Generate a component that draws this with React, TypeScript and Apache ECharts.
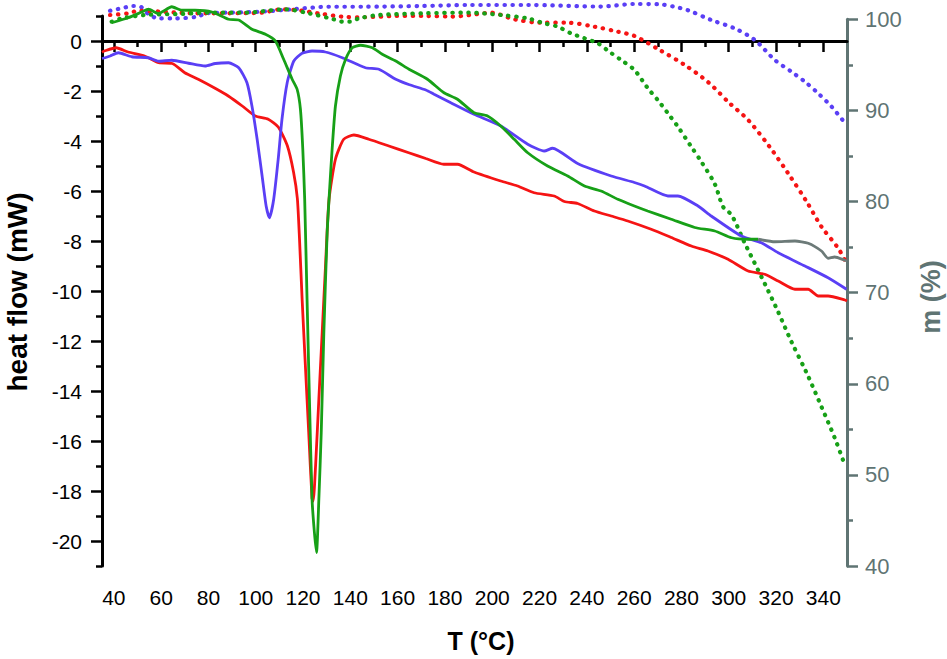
import React, { useEffect, useRef } from "react";
import * as echarts from "echarts";

// ---------- data ----------
const redT = [35, 36, 41, 46, 53, 59, 64.7, 70, 75.7, 83, 88.4, 94.3, 99.8, 105.3, 109.6, 113.4, 116, 117.6, 118.5, 119.6, 121, 122.4, 123.8, 124.3, 125.3, 126.7, 128.1, 129.5, 131, 133.7, 137.2, 141.5, 147.8, 156.3, 164.7, 171.9, 179.5, 185.3, 192.3, 203.6, 210.7, 217.7, 226.2, 230.5, 236.1, 243.2, 250.3, 257.3, 267.2, 275.7, 284.2, 291.2, 299.7, 308.2, 315.2, 320.9, 328, 333.6, 337.8, 342, 349.1, 350];
const redHF = [-0.45, -0.4, -0.27, -0.44, -0.6, -0.87, -0.9, -1.27, -1.53, -1.9, -2.2, -2.6, -3.0, -3.13, -3.45, -4.2, -5.25, -6.3, -7.9, -10.3, -13, -15.65, -18.3, -18.4, -17, -14.3, -11.66, -9.0, -6.33, -4.73, -3.93, -3.76, -3.93, -4.2, -4.47, -4.7, -4.93, -4.93, -5.24, -5.6, -5.8, -6.07, -6.2, -6.42, -6.5, -6.8, -7.0, -7.2, -7.53, -7.86, -8.2, -8.4, -8.73, -9.2, -9.33, -9.6, -9.93, -9.93, -10.2, -10.2, -10.36, -10.4];

const blueT = [35, 36.3, 38.4, 41.9, 47.6, 54.6, 58.9, 64.5, 71.6, 78.6, 82.9, 88.5, 92.8, 96.3, 98.4, 100.6, 102.7, 104.4, 105.8, 107.6, 109.5, 111.1, 113.3, 116.1, 119.6, 123.8, 129.5, 136.6, 146.4, 152.1, 159.2, 165, 171.9, 175.4, 182.5, 192.3, 203.6, 215, 222, 225.5, 236.1, 250.3, 260.1, 264.4, 274.3, 278.5, 287, 292.6, 305.3, 313.8, 320.9, 332.2, 342, 349.8];
const blueHF = [-0.7, -0.67, -0.6, -0.47, -0.63, -0.67, -0.81, -0.77, -0.89, -1.0, -0.9, -0.87, -1.07, -1.67, -2.6, -3.93, -5.4, -6.6, -7.07, -6.33, -4.73, -3.13, -1.67, -0.8, -0.49, -0.4, -0.44, -0.67, -1.07, -1.13, -1.53, -1.75, -1.96, -2.13, -2.47, -2.93, -3.4, -4.13, -4.4, -4.29, -4.9, -5.4, -5.66, -5.8, -6.2, -6.2, -6.6, -7.0, -7.8, -8.07, -8.47, -9.0, -9.47, -9.93];

const greenT = [39.1, 46.1, 51.8, 54.6, 58.9, 64.5, 68.8, 74.4, 81.5, 88.5, 92.8, 98.4, 104.1, 108.3, 111.8, 115.4, 117.5, 118.9, 119.9, 120.7, 121.7, 122.7, 123.8, 124.8, 125.7, 126.7, 127.7, 128.8, 130.2, 131.2, 132.3, 133.7, 135.8, 138, 140.8, 144.3, 149.3, 153.5, 159.2, 164.8, 172.6, 179.6, 185.3, 192.3, 198, 203.6, 209.3, 215, 223.4, 231.9, 239, 246, 253.1, 260.1, 265.7, 275.7, 285.6, 294.1, 301.2, 308.2, 312.4];
const greenHF = [0.73, 0.93, 1.16, 1.27, 1.1, 1.37, 1.23, 1.23, 1.16, 0.87, 0.84, 0.47, 0.27, 0, -0.73, -1.53, -1.93, -2.73, -4.33, -6.33, -10.33, -14.3, -18.3, -19.65, -20.46, -18.3, -15.65, -11.66, -7.67, -6.0, -4.33, -2.6, -1.4, -0.73, -0.27, -0.17, -0.27, -0.53, -0.8, -1.13, -1.53, -2.07, -2.33, -2.87, -3.0, -3.4, -3.93, -4.47, -5.0, -5.4, -5.8, -6.0, -6.33, -6.6, -6.8, -7.13, -7.46, -7.6, -7.87, -7.93, -7.93];

const grayT = [312.4, 319.5, 328, 333.6, 339.2, 342, 344.8, 349.1, 350];
const grayHF = [-7.93, -8.03, -8.0, -8.09, -8.4, -8.69, -8.64, -8.77, -8.8];

const blueMT = [38.4, 44.7, 47.6, 51.1, 54.6, 58.9, 65.9, 75.8, 78.6, 88.5, 102.6, 116.8, 130.9, 145, 170.5, 190, 215, 246, 260, 270.7, 277, 282.7, 292.6, 302.5, 311, 319.5, 326.5, 332.2, 337.8, 343.5, 349.8];
const blueM = [100.94, 101.3, 101.46, 101.4, 100.58, 100.1, 100.1, 100.3, 100.66, 100.73, 100.84, 101.13, 101.38, 101.38, 101.46, 101.57, 101.57, 101.4, 101.68, 101.65, 101.38, 101.0, 99.92, 99.0, 97.73, 95.53, 94.25, 93.15, 91.88, 90.41, 88.4];

const redMT = [38.4, 46.1, 50.4, 60.3, 74.4, 88.5, 102.6, 111.1, 119.6, 128.1, 136.6, 145, 159.2, 171.9, 182.5, 196.6, 199.4, 209.3, 220.6, 231.9, 243.2, 253.1, 260.1, 270.8, 281.4, 291.2, 300.4, 308.2, 317.3, 325.1, 332.9, 339.2, 346.3, 349.8];
const redM = [100.47, 100.66, 100.94, 100.84, 100.66, 100.66, 100.73, 101.1, 100.94, 100.58, 100.29, 100.22, 100.36, 100.36, 100.3, 100.66, 100.73, 100.0, 99.63, 99.63, 99.19, 98.64, 98.17, 96.63, 94.98, 93.12, 90.78, 88.95, 86.0, 83.1, 80.0, 77.24, 74.87, 73.2];

const greenMT = [39.1, 43.3, 53.2, 67.3, 81.5, 95.6, 112.5, 122.4, 133, 136.6, 140.1, 143.6, 152.1, 171.9, 190, 203.6, 215, 222, 227.7, 233.3, 239, 244.6, 249.5, 254.5, 260.1, 265.8, 270, 274.3, 278.5, 284.2, 288.4, 294.1, 297.6, 301.2, 306.8, 313.8, 320.2, 326.5, 333, 339.2, 344.9, 348.8];
const greenM = [99.74, 100.1, 100.47, 100.58, 100.73, 100.73, 101.1, 100.66, 100.0, 99.74, 99.74, 100.1, 100.47, 100.66, 100.73, 100.47, 100.1, 99.56, 99.19, 98.46, 97.92, 97.37, 96.44, 95.53, 94.44, 92.43, 91.14, 89.68, 88.21, 86.0, 84.37, 81.92, 79.43, 78.52, 75.42, 71.75, 68.28, 64.62, 61.15, 57.48, 54.0, 51.27];

const xMajorTicks = [40, 60, 80, 100, 120, 140, 160, 180, 200, 220, 240, 260, 280, 300, 320, 340];
const xMinorTicks = [50, 70, 90, 110, 130, 150, 170, 190, 210, 230, 250, 270, 290, 310, 330];
const yMajorTicks = [-20, -18, -16, -14, -12, -10, -8, -6, -4, -2, 0];
const yMinorTicks = [-21, -19, -17, -15, -13, -11, -9, -7, -5, -3, -1, 1];

const xTitle = "T (°C)";
const yTitle = "heat flow (mW)";
const y2Title = "m (%)";

const zip = (a: number[], b: number[]) => a.map((v, i) => [v, b[i]]);

const FONT = "'Liberation Sans', Arial, sans-serif";
const GRAY = "#5f7473";

export default function App() {
  const ref = useRef<HTMLDivElement>(null);
  useEffect(() => {
    if (!ref.current) return;
    const chart = echarts.init(ref.current, null, { renderer: "svg" });
    const gridA = { left: 102, right: 100, top: 16, bottom: 93, outerBoundsMode: "none" };
    const gridB = { left: 102, right: 100, top: 19.3, bottom: 93, outerBoundsMode: "none" };
    const solid = (name: string, t: number[], v: number[], color: string) => ({
      name,
      type: "line",
      xAxisIndex: 0,
      yAxisIndex: 0,
      data: zip(t, v),
      symbol: "none",
      smooth: 0.2,
      clip: false,
      lineStyle: { color, width: 2.8 },
      z: 3,
    });
    const dotted = (name: string, t: number[], v: number[], color: string) => ({
      name,
      type: "line",
      xAxisIndex: 2,
      yAxisIndex: 2,
      data: zip(t, v),
      symbol: "none",
      smooth: 0.3,
      clip: false,
      lineStyle: { color, width: 4.2, type: [0.4, 7.6], cap: "round" },
      z: 2,
    });
    chart.setOption({
      animation: false,
      backgroundColor: "#ffffff",
      grid: [gridA, gridA, gridB],
      xAxis: [
        {
          gridIndex: 0,
          type: "value",
          min: 35,
          max: 350,
          position: "bottom",
          axisLine: { show: true, lineStyle: { color: "#000", width: 3 } },
          axisTick: { show: true, customValues: xMajorTicks, length: 11, lineStyle: { color: "#000", width: 2.5 } },
          axisLabel: { show: true, customValues: xMajorTicks, margin: 21, color: "#000", fontSize: 21, fontFamily: FONT },
          splitLine: { show: false },
        },
        {
          gridIndex: 1,
          type: "value",
          min: 35,
          max: 350,
          position: "bottom",
          axisLine: { show: false },
          axisTick: { show: true, customValues: xMinorTicks, length: 6, lineStyle: { color: "#000", width: 2.5 } },
          axisLabel: { show: false },
          splitLine: { show: false },
        },
        {
          gridIndex: 2,
          type: "value",
          min: 35,
          max: 350,
          show: false,
          splitLine: { show: false },
        },
      ],
      yAxis: [
        {
          gridIndex: 0,
          type: "value",
          min: -21,
          max: 1,
          position: "left",
          axisLine: { show: true, lineStyle: { color: "#000", width: 3 } },
          axisTick: { show: true, customValues: yMajorTicks, length: 11, lineStyle: { color: "#000", width: 2.5 } },
          axisLabel: { show: true, customValues: yMajorTicks, margin: 20, color: "#000", fontSize: 21, fontFamily: FONT },
          splitLine: { show: false },
        },
        {
          gridIndex: 1,
          type: "value",
          min: -21,
          max: 1,
          position: "left",
          axisLine: { show: false },
          axisTick: { show: true, customValues: yMinorTicks, length: 6, lineStyle: { color: "#000", width: 2.5 } },
          axisLabel: { show: false },
          splitLine: { show: false },
        },
        {
          gridIndex: 2,
          type: "value",
          min: 40,
          max: 100,
          interval: 10,
          position: "right",
          axisLine: { show: true, lineStyle: { color: GRAY, width: 3 } },
          axisTick: { show: true, length: 11, lineStyle: { color: GRAY, width: 2.5 } },
          minorTick: { show: true, splitNumber: 2, length: 6, lineStyle: { color: GRAY, width: 2.5 } },
          axisLabel: { show: true, margin: 18, color: GRAY, fontSize: 22, fontFamily: FONT },
          splitLine: { show: false },
          minorSplitLine: { show: false },
        },
      ],
      graphic: [
        {
          type: "text",
          x: 481,
          y: 641,
          style: { text: xTitle, font: `bold 25px ${FONT}`, fill: "#000", align: "center", verticalAlign: "middle" },
        },
        {
          type: "text",
          x: 17,
          y: 292,
          rotation: Math.PI / 2,
          style: { text: yTitle, font: `bold 28px ${FONT}`, fill: "#000", align: "center", verticalAlign: "middle" },
        },
        {
          type: "text",
          x: 931,
          y: 297,
          rotation: Math.PI / 2,
          style: { text: y2Title, font: `bold 27px ${FONT}`, fill: GRAY, align: "center", verticalAlign: "middle" },
        },
      ],
      series: [
        dotted("blue m", blueMT, blueM, "#5a3ff5"),
        dotted("red m", redMT, redM, "#f51414"),
        dotted("green m", greenMT, greenM, "#17a017"),
        solid("red hf", redT, redHF, "#f51414"),
        solid("blue hf", blueT, blueHF, "#5a3ff5"),
        solid("green hf", greenT, greenHF, "#17a017"),
        solid("gray hf", grayT, grayHF, "#6c7a78"),
      ],
    });
    return () => chart.dispose();
  }, []);
  return (
    <div
      ref={ref}
      style={{ position: "fixed", left: 0, top: 0, width: 947, height: 659, background: "#fff" }}
    />
  );
}
